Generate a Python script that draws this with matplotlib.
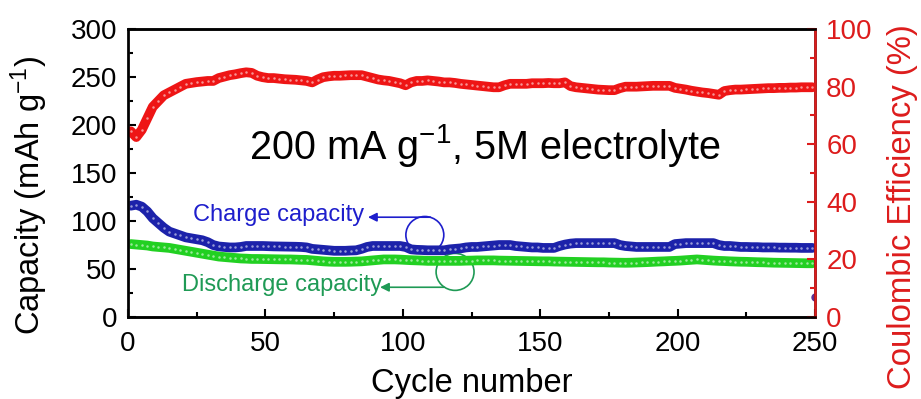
import matplotlib
matplotlib.use('Agg')
import matplotlib.pyplot as plt
import numpy as np
from matplotlib.patches import Ellipse

plt.rcParams['font.family'] = ['Liberation Sans', 'DejaVu Sans']
plt.rcParams['mathtext.fontset'] = 'custom'
plt.rcParams['mathtext.rm'] = 'Liberation Sans'
plt.rcParams['mathtext.it'] = 'Liberation Sans:italic'

# cycle numbers (every second cycle)
cycles = np.arange(1, 251, 2)

# Coulombic efficiency (%)
ce = [64.5, 62.5, 65.0, 69.0, 73.0, 75.0, 77.0, 78.0, 79.0, 80.0,
      81.0, 81.3, 81.6, 81.8, 82.0, 82.0, 83.0, 83.5, 84.0, 84.3,
      84.7, 85.0, 84.8, 83.8, 83.3, 83.0, 83.0, 82.8, 82.6, 82.5,
      82.4, 82.2, 82.0, 81.5, 82.5, 83.3, 83.6, 83.8, 83.8, 83.9,
      84.0, 84.0, 84.0, 83.5, 83.0, 82.5, 82.2, 82.0, 81.6, 81.2,
      80.5, 81.5, 82.0, 82.0, 82.2, 82.0, 81.8, 81.5, 81.5, 81.3,
      81.0, 80.8, 80.6, 80.4, 80.2, 80.0, 79.8, 79.8, 80.5, 81.0,
      81.0, 81.0, 81.0, 81.2, 81.2, 81.2, 81.3, 81.2, 81.2, 81.5,
      80.2, 79.8, 79.6, 79.4, 79.2, 79.0, 78.9, 78.8, 78.8, 79.5,
      80.0, 80.0, 80.0, 80.1, 80.2, 80.3, 80.3, 80.3, 80.3, 79.6,
      79.3, 79.0, 78.6, 78.3, 78.0, 77.8, 77.5, 77.2, 78.5, 78.8,
      79.0, 79.0, 79.1, 79.2, 79.3, 79.4, 79.5, 79.5, 79.6, 79.6,
      79.7, 79.7, 79.8, 79.8, 79.8]

# charge capacity (mAh/g)
charge = [116, 117, 115, 110, 103, 98, 93, 89, 87, 85,
          83, 82, 81, 80, 78, 75, 73.5, 73, 72.5, 72.5,
          73, 74, 74, 74, 74, 73.8, 73.6, 73.5, 73.4, 73.3,
          73.2, 73, 72.5, 71, 70.5, 70, 69.5, 69, 69, 69,
          69.3, 69.5, 71, 73, 74, 74, 74, 74, 74, 74,
          73, 70.5, 70, 69.8, 69.5, 69.5, 69.5, 69.5, 70.5, 71,
          71.5, 72.5, 73, 73, 73.5, 74, 74.5, 75, 75, 75,
          74, 73.5, 73, 72.5, 72.5, 72, 72, 72, 74, 75.5,
          76.5, 77, 77, 77, 77, 77, 77, 77, 77, 75,
          74, 73.5, 73, 73, 73, 73, 73, 73, 73, 76,
          76.5, 77, 77, 77, 77, 77, 77, 75, 74, 74,
          73.5, 73, 73, 72.8, 72.8, 72.5, 72.5, 72.5, 72.3, 72.3,
          72.2, 72.2, 72, 72, 72]

# discharge capacity (mAh/g)
discharge = [76, 75.5, 75, 74.5, 73.5, 73, 72.5, 72, 71, 70,
             69, 68, 67, 66, 65, 64, 63, 62.5, 62, 61.5,
             61, 60.8, 60.5, 60.5, 60.4, 60.3, 60.2, 60.1, 60, 60,
             59.8, 59.6, 59.5, 59, 58.5, 58, 57.7, 57.5, 57.5, 57.5,
             57.6, 57.8, 58, 58.5, 59, 59.5, 60, 60, 60, 59.8,
             59.5, 59.2, 59, 58.8, 58.5, 58.5, 58.5, 58.5, 58.5, 58.5,
             58.5, 58.7, 58.8, 59, 59, 59, 59, 58.8, 58.7, 58.6,
             58.5, 58.4, 58.3, 58.2, 58.1, 58, 58, 57.8, 57.7, 57.6,
             57.5, 57.4, 57.3, 57.2, 57.1, 57, 57, 56.8, 56.7, 56.6,
             56.5, 56.6, 56.8, 57, 57.2, 57.5, 57.8, 58, 58.3, 58.5,
             58.8, 59.2, 59.6, 60, 59.6, 59.2, 58.8, 58.5, 58.3, 58,
             57.8, 57.6, 57.5, 57.3, 57.1, 57, 56.8, 56.6, 56.5, 56.4,
             56.3, 56.2, 56.1, 56, 56]

# stray last point at the right edge
last_cycle = [250]
last_value = [21]

blue = '#1c22aa'
green = '#22d022'
red = '#ee1515'
red_ax = '#dd1c1c'
blue_txt = '#1e1ecc'
green_txt = '#1f9a55'

fig = plt.figure(figsize=(9.21, 3.99), dpi=100)
ax = fig.add_axes([0.139, 0.2055, 0.746, 0.7215])
ax2 = ax.twinx()


def band(a, y, c):
    # dense open-circle markers look like a thick band with white specks
    a.plot(cycles, y, '-', color=c, lw=7, solid_capstyle='round',
           solid_joinstyle='round')
    a.plot(cycles, y, 'o', mfc='white', mec='none', ms=1.8, alpha=0.55)


band(ax2, ce, red)
band(ax, charge, blue)
band(ax, discharge, green)
ax.plot(last_cycle, last_value, 'o', color='#5a3090', ms=5)

ax.set_xlim(0, 250)
ax.set_ylim(0, 300)
ax2.set_ylim(0, 100)

ax.set_xticks(np.arange(0, 251, 50))
ax.set_xticks(np.arange(0, 251, 25), minor=True)
ax.set_yticks(np.arange(0, 301, 50))
ax.set_yticks(np.arange(0, 301, 25), minor=True)
ax2.set_yticks(np.arange(0, 101, 20))
ax2.set_yticks(np.arange(0, 101, 10), minor=True)

ax.tick_params(axis='x', which='major', direction='in', length=6, width=1.5,
               labelsize=20, pad=10)
ax.tick_params(axis='y', which='major', direction='in', length=6, width=1.5,
               labelsize=20, pad=8)
ax.tick_params(axis='both', which='minor', direction='in', length=3.5, width=1.5)
ax.tick_params(axis='y', which='both', right=False)
ax2.tick_params(axis='y', which='major', direction='in', length=6, width=1.5,
                labelsize=20, colors=red_ax, pad=8)
ax2.tick_params(axis='y', which='minor', direction='in', length=3.5, width=1.5,
                colors=red_ax)

for a in (ax, ax2):
    for s in a.spines.values():
        s.set_linewidth(1.8)
ax2.spines['right'].set_color(red_ax)
ax.spines['left'].set_color('#555555')

ax.set_xlabel('Cycle number', fontsize=23.5, labelpad=8)
ax.set_ylabel('Capacity (mAh g$^{-1}$)', fontsize=23.5)
ax.yaxis.set_label_coords(-0.1135, 0.424)
ax2.set_ylabel('Coulombic Efficiency (%)', fontsize=23.7, color=red_ax,
               rotation=90)
ax2.yaxis.set_label_coords(1.1048, 0.382)

ax.text(130, 179, '200 mA g$^{-1}$, 5M electrolyte', fontsize=28.5,
        ha='center', va='center')

# annotations
ax.text(23.5, 106, 'Charge capacity', fontsize=17, color=blue_txt,
        ha='left', va='center')
ax.add_patch(Ellipse((108, 85.5), 13.8, 38.5, fill=False, ec=blue_txt, lw=1.2))
ax.annotate('', xy=(87.3, 104), xytext=(110, 104),
            arrowprops=dict(arrowstyle='-|>', color=blue_txt, lw=1.2,
                            mutation_scale=13, shrinkA=0, shrinkB=0))
ax.text(19.5, 33, 'Discharge capacity', fontsize=17, color=green_txt,
        ha='left', va='center')
ax.add_patch(Ellipse((119, 47), 13.8, 38.5, fill=False, ec=green_txt, lw=1.2))
ax.annotate('', xy=(91.7, 31), xytext=(115, 31),
            arrowprops=dict(arrowstyle='-|>', color=green_txt, lw=1.2,
                            mutation_scale=13, shrinkA=0, shrinkB=0))

fig.savefig('out.png', dpi=100)
